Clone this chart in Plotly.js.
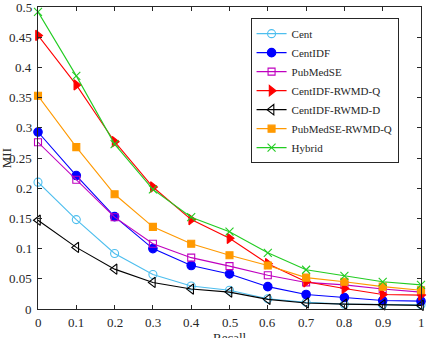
<!DOCTYPE html>
<html>
<head>
<meta charset="utf-8">
<script src="https://cdn.plot.ly/plotly-3.0.1.min.js"></script>
<style>html,body{margin:0;padding:0;background:#fff;}#chart{width:429px;height:338px;}</style>
</head>
<body>
<div id="chart"></div>
<script>
const recall = [0, 0.1, 0.2, 0.3, 0.4, 0.5, 0.6, 0.7, 0.8, 0.9, 1.0];
const seriesNames = ["Cent", "CentIDF", "PubMedSE", "CentIDF-RWMD-Q", "CentIDF-RWMD-D", "PubMedSE-RWMD-Q", "Hybrid"];
const cent          = [0.210, 0.148, 0.092, 0.057, 0.038, 0.031, 0.017, 0.011, 0.008, 0.007, 0.007];
const centIDF       = [0.293, 0.221, 0.153, 0.100, 0.072, 0.058, 0.037, 0.024, 0.019, 0.014, 0.013];
const pubMedSE      = [0.276, 0.214, 0.152, 0.108, 0.085, 0.071, 0.056, 0.044, 0.040, 0.033, 0.028];
const centIDFRWMDQ  = [0.453, 0.371, 0.277, 0.202, 0.148, 0.117, 0.075, 0.045, 0.034, 0.024, 0.023];
const centIDFRWMDD  = [0.147, 0.102, 0.066, 0.044, 0.033, 0.028, 0.016, 0.010, 0.008, 0.007, 0.006];
const pubMedSERWMDQ = [0.353, 0.268, 0.190, 0.136, 0.108, 0.089, 0.072, 0.052, 0.045, 0.037, 0.031];
const hybrid        = [0.492, 0.386, 0.273, 0.198, 0.152, 0.128, 0.093, 0.065, 0.055, 0.045, 0.040];
const xTicks = [0, 0.1, 0.2, 0.3, 0.4, 0.5, 0.6, 0.7, 0.8, 0.9, 1];
const yTicks = [0, 0.05, 0.1, 0.15, 0.2, 0.25, 0.3, 0.35, 0.4, 0.45, 0.5];
const xTickText = ["0", "0.1", "0.2", "0.3", "0.4", "0.5", "0.6", "0.7", "0.8", "0.9", "1"];
const yTickText = ["0", "0.05", "0.1", "0.15", "0.2", "0.25", "0.3", "0.35", "0.4", "0.45", "0.5"];
const xTitle = "Recall";
const yTitle = "MII";

const allValues = [cent, centIDF, pubMedSE, centIDFRWMDQ, centIDFRWMDD, pubMedSERWMDQ, hybrid];
const colors = ["#4DBEEE", "#0000FF", "#BF00BF", "#FF0000", "#000000", "#FF9900", "#22CC22"];
const symbols = ["circle-open", "circle", "square-open", "triangle-right", "triangle-left-open", "square", "x-thin-open"];
const sizes = [8, 8.5, 7, 9, 9, 7, 8];

const traces = allValues.map((v, i) => ({
  x: recall, y: v, name: seriesNames[i], type: "scatter", mode: "lines+markers", cliponaxis: false,
  line: {color: colors[i], width: 1.1},
  marker: {symbol: symbols[i], size: sizes[i], color: colors[i], line: {color: colors[i], width: 1.1}}
}));

const font = {family: "Liberation Serif, Times New Roman, serif", size: 13, color: "#262626"};
const axisCommon = {
  showgrid: false, zeroline: false, showline: true, linecolor: "#262626", linewidth: 1,
  mirror: "ticks", ticks: "inside", ticklen: 4, tickcolor: "#262626",
  showticklabels: false, tickmode: "array"
};

// tick labels placed through the axes' own scales
const xLabelAnns = xTicks.map((v, i) => ({text: xTickText[i], xref: "x", yref: "paper", x: v, y: 0,
  xanchor: "center", yanchor: "middle", yshift: -13, showarrow: false, font: font}));
const yLabelAnns = yTicks.map((v, i) => ({text: yTickText[i], xref: "paper", yref: "y", x: 0, y: v,
  xanchor: "right", yanchor: "middle", xshift: -4, showarrow: false, font: font}));

const layout = {
  width: 429, height: 338,
  margin: {l: 38, r: 8, t: 7, b: 29},
  paper_bgcolor: "#fff", plot_bgcolor: "#fff",
  font: font,
  showlegend: true,
  xaxis: Object.assign({}, axisCommon, {range: [0, 1], tickvals: xTicks}),
  yaxis: Object.assign({}, axisCommon, {range: [0, 0.5], tickvals: yTicks}),
  annotations: xLabelAnns.concat(yLabelAnns).concat([
    {text: xTitle, xref: "paper", yref: "paper", x: 0.5, y: -0.093,
      xanchor: "center", yanchor: "middle", showarrow: false, font: font},
    {text: yTitle, xref: "paper", yref: "paper", x: -0.083, y: 0.5, textangle: -90,
      xanchor: "center", yanchor: "middle", showarrow: false, font: font}
  ]),
  legend: {x: 0.555, y: 0.963, xanchor: "left", yanchor: "top", bgcolor: "#fff",
    bordercolor: "#262626", borderwidth: 1, font: {family: font.family, size: 11, color: "#262626"},
    tracegroupgap: 0, itemwidth: 30}
};
Plotly.newPlot("chart", traces, layout, {displayModeBar: false, staticPlot: true});
</script>
</body>
</html>
